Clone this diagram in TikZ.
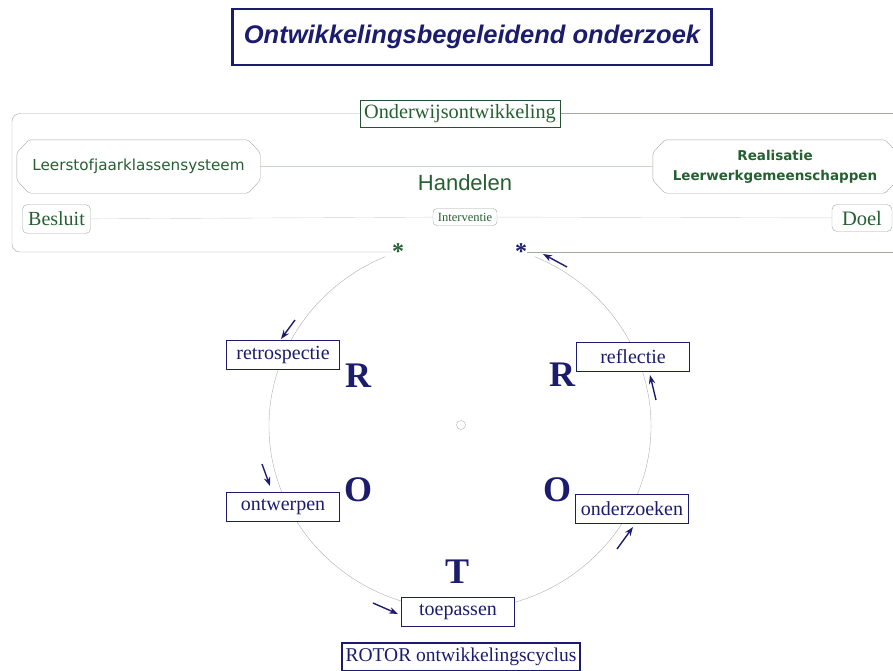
\documentclass[tikz,border=0pt]{standalone}
\usepackage{fontspec}
\setmainfont{Liberation Serif}
\setsansfont{Liberation Sans}
\newfontfamily\widesans{DejaVu Sans}
\usetikzlibrary{arrows.meta,calc}
\definecolor{navy}{RGB}{28,28,110}
\definecolor{leafgreen}{RGB}{38,96,50}
\definecolor{framegray}{RGB}{160,172,160}
\definecolor{linegray}{RGB}{205,212,205}
\definecolor{circlegray}{RGB}{175,175,182}

\begin{document}
\begin{tikzpicture}[x=1pt,y=-1pt,
	cyclebox/.style={draw=navy,line width=1.2pt,fill=white,text=navy,font=\fontsize{20}{20}\selectfont,minimum width=113pt,minimum height=29pt,inner sep=0pt},
	letter/.style={text=navy,inner sep=0pt,font=\fontsize{36}{36}\selectfont\bfseries},
	tag/.style={draw=framegray,rounded corners=5pt,fill=white,text=leafgreen,inner sep=0pt},
	cutbox/.style={fill=white,text=leafgreen,minimum height=53pt,inner sep=0pt},
	cutline/.style={draw=framegray,rounded corners=2pt},
	flow/.style={navy,line width=1.4pt,-{Stealth[length=9pt,width=6.5pt]}},
	starmark/.style={inner sep=0pt,font=\fontsize{24}{24}\selectfont\bfseries}]
	\useasboundingbox (0,0) rectangle (893,670);
	\node[draw=navy,line width=2.2pt,minimum width=479pt,minimum height=56pt,inner sep=0pt,text=navy,font=\sffamily\bfseries\itshape\fontsize{25.5}{25.5}\selectfont] (title) at (472,37) {Ontwikkelingsbegeleidend onderzoek};
	\coordinate (hub) at (460,426);
	\draw [circlegray] ($(hub)+(-67:191 and 184)$) arc [start angle=-67,end angle=247,x radius=191,y radius=184];
	\node[draw=circlegray,circle,minimum size=9pt,inner sep=0pt] (dot) at (461,425) {};
	\node[draw={rgb,255:red,40;green,80;blue,50},line width=1pt,fill=white,text=leafgreen,minimum width=200pt,minimum height=27pt,inner sep=0pt,font=\fontsize{20.3}{20.3}\selectfont] (onderwijs) at (460,113.5) {Onderwijsontwikkeling};
	\node[starmark,text=leafgreen] (lstar) at (398,252) {*};
	\node[starmark,text=navy] (rstar) at (521,252) {*};
	\draw [framegray,rounded corners=8pt] (onderwijs.west) -| (12,252) -- (lstar.west);
	\draw [framegray] (onderwijs.east) -- (900,113.5);
	\draw [framegray] (rstar.east) -- (900,252);
	\node[cutbox,minimum width=243pt,font=\widesans\fontsize{15.2}{15.2}\selectfont] (leer) at (138.5,166.5) {Leerstofjaarklassensysteem};
	\node[cutbox,minimum width=244pt,align=center,font=\widesans\bfseries\fontsize{13.5}{20}\selectfont] (real) at (775,166.5) {Realisatie\\Leerwerkgemeenschappen};
	\draw [cutline] ([xshift=12pt]leer.north west) -- ([xshift=-12pt]leer.north east) -- ([yshift=-13pt]leer.north east) -- ([yshift=13pt]leer.south east) -- ([xshift=-12pt]leer.south east) -- ([xshift=12pt]leer.south west) -- ([yshift=13pt]leer.south west) -- ([yshift=-13pt]leer.north west) -- cycle;
	\draw [cutline] ([xshift=12pt]real.north west) -- ([xshift=-12pt]real.north east) -- ([yshift=-13pt]real.north east) -- ([yshift=13pt]real.south east) -- ([xshift=-12pt]real.south east) -- ([xshift=12pt]real.south west) -- ([yshift=13pt]real.south west) -- ([yshift=-13pt]real.north west) -- cycle;
	\draw [linegray] (leer) -- (real);
	\node[text=leafgreen,font=\sffamily\fontsize{22}{22}\selectfont] (handelen) at (465,183) {Handelen};
	\node[tag,minimum width=68pt,minimum height=29pt,font=\fontsize{20}{20}\selectfont] (besluit) at (56.5,219) {Besluit};
	\node[tag,minimum width=64pt,minimum height=17pt,rounded corners=4pt,font=\fontsize{12.5}{12.5}\selectfont] (interv) at (465,217) {Interventie};
	\node[tag,minimum width=60pt,minimum height=27pt,font=\fontsize{20.5}{20.5}\selectfont] (doel) at (862,218) {Doel};
	\draw [linegray] (besluit) -- (interv) -- (doel);
	\node[cyclebox] (retro) at (283,355) {retrospectie};
	\node[cyclebox] (reflectie) at (633,357) {reflectie};
	\node[cyclebox] (ontwerpen) at (283,507) {ontwerpen};
	\node[cyclebox] (onderzoeken) at (632,509) {onderzoeken};
	\node[cyclebox] (toepassen) at (458,612) {toepassen};
	\node[cyclebox,minimum width=238pt,minimum height=28pt,font=\fontsize{19.5}{19.5}\selectfont] (rotor) at (461,657) {ROTOR ontwikkelingscyclus};
	\node[letter] (r1) at (358,376) {R};
	\node[letter] (r2) at (562,375) {R};
	\node[letter] (o1) at (358,490) {O};
	\node[letter] (o2) at (557,490) {O};
	\node[letter] (t) at (457,572) {T};
	\draw [flow] (295,320) -- (281,339);
	\draw [flow] (262,464) -- (270,486);
	\draw [flow] (373,603) -- (398,614);
	\draw [flow] (617,549) -- (633,527);
	\draw [flow] (656,400) -- (650,375);
	\draw [flow] (567,267) -- (543,254);
\end{tikzpicture}
\end{document}
